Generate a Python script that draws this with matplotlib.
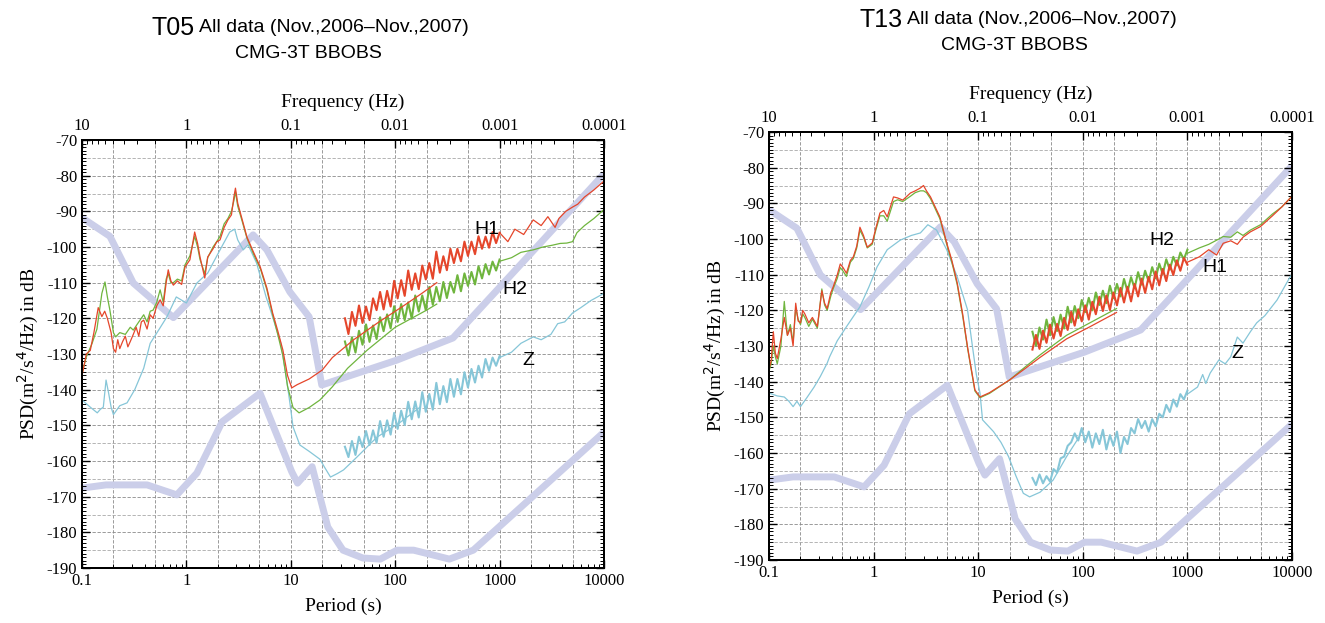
import numpy as np
import matplotlib
matplotlib.use("Agg")
import matplotlib.pyplot as plt
from matplotlib.ticker import FixedLocator, FixedFormatter, LogLocator, NullFormatter, MultipleLocator

plt.rcParams['axes.unicode_minus'] = False

# ---- Peterson noise models ----
nhnm_T = [0.1, 0.185, 0.31, 0.75, 4.35, 5.9, 9.8, 15.0, 19.8, 104, 358, 10000]
nhnm_db = [-91.8, -97.0, -110.1, -119.8, -96.6, -100.8, -112.6, -119.6, -138.7, -131.7, -125.5, -79.5]
nlnm_T = [0.1, 0.17, 0.42, 0.81, 1.26, 2.2, 5.07, 10.2, 11.6, 16.0, 22.6, 31.6, 49, 72, 104, 150, 330, 560, 10000]
nlnm_db = [-167.6, -166.7, -166.7, -169.5, -163.4, -149.0, -141.0, -163.0, -166.2, -161.6, -178.5, -185.0,
           -187.2, -187.5, -185.0, -185.0, -187.5, -185.0, -151.9]

# ---- T05 : low resolution curves ----
t05_h1 = [[0.1, -136], [0.105, -133], [0.11, -130], [0.12, -129], [0.13, -124], [0.143, -117], [0.155, -119.5],
          [0.165, -118], [0.175, -120], [0.19, -124], [0.2, -128.5], [0.21, -129.5], [0.22, -126], [0.23, -128.5],
          [0.245, -126.5], [0.26, -125], [0.275, -128], [0.29, -126.5], [0.31, -124.5], [0.33, -122.5],
          [0.35, -125], [0.37, -121], [0.39, -120.5], [0.42, -123], [0.45, -119], [0.48, -120], [0.52, -116.5],
          [0.56, -114.8], [0.6, -116.5], [0.64, -110], [0.67, -106.4], [0.71, -109.5], [0.75, -110.7],
          [0.82, -109.5], [0.9, -110.5], [0.97, -105.6], [1.08, -103.6], [1.2, -95.8], [1.28, -99],
          [1.35, -102.8], [1.5, -108.7], [1.6, -102.8], [1.8, -100.5], [1.95, -98.6], [2.1, -98], [2.3, -94.5],
          [2.5, -92.4], [2.7, -91], [2.85, -86], [2.95, -83.5], [3.1, -87.7], [3.4, -92], [3.8, -97.2],
          [4.4, -101.5], [5.1, -105.6], [5.9, -111.5], [6.7, -118.5], [7.5, -123.5], [8.4, -128.9], [9.3, -136],
          [10.2, -139.5], [11.5, -138.6], [15, -137], [20, -134.5], [25, -131], [40, -126], [70, -121],
          [120, -116.5], [180, -113], [250, -110]]
t05_h2 = [[0.1, -135.5], [0.11, -130.8], [0.125, -127], [0.139, -123], [0.155, -113], [0.166, -109.8],
          [0.175, -114], [0.185, -117.7], [0.2, -124], [0.21, -125.2], [0.23, -124], [0.26, -124.5],
          [0.29, -122.5], [0.31, -123.3], [0.35, -121], [0.39, -119], [0.42, -121], [0.45, -118], [0.48, -117.7],
          [0.52, -115.5], [0.56, -112], [0.6, -115.5], [0.64, -109], [0.67, -107.5], [0.71, -110], [0.75, -110],
          [0.82, -109], [0.9, -109.5], [0.97, -105], [1.08, -102.5], [1.2, -97], [1.28, -100], [1.35, -103.5],
          [1.5, -107.5], [1.6, -103], [1.8, -100], [1.95, -98.5], [2.1, -97], [2.3, -93.5], [2.5, -92],
          [2.7, -90], [2.85, -87], [2.95, -84.5], [3.1, -88.5], [3.4, -92.5], [3.8, -97.5], [4.4, -102],
          [5.1, -106], [5.9, -112], [6.7, -119], [7.5, -124.5], [8.4, -130.5], [9.3, -139], [10.5, -145],
          [12, -146.5], [15, -145], [19, -142.9], [25, -139.2], [35, -134], [54, -128.9], [100, -122.5],
          [200, -117.7], [250, -116]]
t05_z = [[0.1, -142.9], [0.12, -144.9], [0.14, -146.5], [0.15, -145.5], [0.16, -144.9], [0.17, -137.3],
         [0.18, -141], [0.19, -144.9], [0.2, -147], [0.23, -144.5], [0.27, -143.7], [0.32, -140], [0.39, -134],
         [0.45, -127], [0.55, -123], [0.65, -119.6], [0.8, -114], [1.0, -115.7], [1.26, -110.1], [1.6, -107.3],
         [2.1, -100.8], [2.6, -95.8], [2.9, -95], [3.1, -98], [3.5, -100.8], [3.9, -99.4], [4.7, -104.5],
         [5.8, -114], [6.7, -119.6], [8, -126.9], [9, -136], [9.8, -143.7], [10.5, -150.4], [12.2, -155.5],
         [15, -157.3], [19, -159.5], [21, -161.7], [24, -164.5], [28, -163.5], [32, -162.5], [43, -158.9],
         [67, -153.3], [110, -149.3], [173, -144.9]]

# ---- T05 : high resolution segments (33 s - 1000 s), then tails ----
t05_h1_hr = [-120, -124.4, -118.2, -122.1, -116.4, -121.3, -116.7, -120.5, -114.4, -117.7, -112.6, -117.5,
             -112.3, -116.7, -109.5, -114.4, -109.3, -113.7, -106.6, -112.0, -107.4, -111.8, -105.2, -109.1,
             -104.5, -108.9, -101.3, -107.2, -102.6, -106.5, -100.5, -104.5, -100.5, -104.0, -98.5, -102.5,
             -98.5, -102.0, -97.0, -100.5, -97.1, -100.2, -95.8, -98.9, -96.0]
t05_h2_hr = [-126.5, -130.4, -125.3, -129.6, -123.5, -127.4, -121.7, -126.6, -122.0, -125.8, -119.7, -123.6,
             -118.9, -122.8, -116.6, -121.0, -116.0, -120.5, -115.6, -120.1, -113.6, -118.1, -113.6, -117.7,
             -111.2, -116.2, -111.2, -115.2, -109.8, -114.3, -109.8, -112.8, -107.9, -112.4, -107.4, -110.9,
             -107.0, -110.5, -105.4, -108.8, -104.8, -107.7, -104.1, -106.6, -103.5]
t05_z_hr = [-156.0, -158.9, -154.4, -158.3, -153.2, -156.1, -151.6, -155.5, -151.4, -154.9, -148.8, -153.2,
            -148.6, -152.6, -146.5, -151.0, -145.9, -149.9, -143.4, -148.3, -143.3, -147.8, -140.7, -146.2,
            -141.2, -145.6, -138.1, -144.1, -139.0, -143.5, -137.0, -142.0, -137.0, -141.3, -135.1, -139.4,
            -134.2, -138.0, -133.3, -136.6, -131.4, -134.7, -131.0, -133.3, -130.6]
t05_h1_tail = [[1000, -96], [1200, -98.5], [1400, -95], [1700, -96.5], [2100, -92.4], [2500, -94], [2900, -91.5],
               [3400, -94.5], [3700, -92], [4300, -90], [5000, -88.8], [5600, -88], [6500, -86], [8000, -84],
               [10000, -81.5]]
t05_h2_tail = [[1000, -104], [1300, -103], [1600, -101.5], [2100, -100.8], [2600, -100], [3200, -99.5],
               [3800, -99], [4400, -98.9], [5000, -98.5], [5500, -96], [6500, -94], [8000, -92], [10000, -89.5]]
t05_z_tail = [[1000, -131], [1300, -129.5], [1600, -127], [2100, -125.2], [2500, -126], [3100, -124.5],
              [3600, -121.5], [4200, -121], [5000, -118.5], [6000, -117], [7500, -115], [10000, -113]]

# ---- T13 : low resolution curves ----
t13_h1 = [[0.1, -136.5], [0.105, -134], [0.11, -126], [0.115, -132], [0.12, -133.5], [0.13, -128], [0.14, -122],
          [0.15, -127], [0.16, -125], [0.17, -130], [0.18, -118], [0.19, -123], [0.2, -123.5], [0.21, -120],
          [0.22, -121], [0.24, -123.5], [0.26, -122], [0.29, -124.5], [0.32, -114.5], [0.34, -118],
          [0.36, -119.5], [0.39, -115], [0.41, -113.5], [0.45, -110], [0.48, -107], [0.51, -108], [0.55, -109.6],
          [0.6, -106], [0.64, -105], [0.69, -102], [0.74, -96.7], [0.8, -99], [0.87, -102.3], [0.97, -101.1],
          [1.05, -97], [1.15, -92.7], [1.25, -92], [1.35, -93.8], [1.55, -88.2], [1.7, -88.5], [1.9, -89.1],
          [2.25, -87.1], [2.5, -86.5], [2.8, -85.7], [3.0, -85], [3.2, -86.5], [3.5, -88.2], [4.3, -93.8],
          [5, -101.1], [5.6, -106], [6.3, -112.3], [7.1, -121], [7.9, -130.2], [8.3, -133.9], [9.3, -142.3],
          [10.4, -144.3], [12.8, -143.1], [20, -139.5], [27, -136.7], [39, -133.2], [70, -128], [117, -124.6],
          [210, -120.6]]
t13_h2 = [[0.1, -137], [0.105, -135], [0.11, -130], [0.115, -133], [0.12, -135], [0.13, -130], [0.14, -117.5],
          [0.15, -127], [0.16, -124], [0.17, -129], [0.18, -119.5], [0.19, -122.5], [0.2, -124], [0.21, -121],
          [0.22, -122], [0.24, -124.5], [0.26, -122.5], [0.29, -125], [0.32, -114], [0.34, -118.5], [0.36, -120],
          [0.39, -116], [0.41, -114], [0.45, -111], [0.48, -108], [0.51, -109], [0.55, -110.5], [0.6, -106.5],
          [0.64, -105.5], [0.69, -102.5], [0.74, -97.5], [0.8, -99.5], [0.87, -102.5], [0.97, -101.5],
          [1.05, -97.5], [1.15, -93.5], [1.25, -93.5], [1.35, -95], [1.55, -89.5], [1.7, -89], [1.9, -89.5],
          [2.25, -88], [2.5, -87], [2.8, -86.5], [3.0, -86.5], [3.2, -87], [3.5, -88.7], [4.3, -94.3],
          [5, -101.5], [5.6, -106.5], [6.3, -112.8], [7.1, -121.5], [7.9, -130.5], [8.3, -134.2], [9.3, -142.6],
          [10.4, -144.5], [12.8, -143.3], [20, -139.5], [27, -136.3], [39, -132.5], [70, -127], [117, -123.5],
          [210, -119.5]]
t13_z = [[0.1, -143.2], [0.12, -144], [0.14, -144.3], [0.155, -145.5], [0.17, -147], [0.185, -145.5],
         [0.2, -147], [0.23, -144.5], [0.27, -141.5], [0.31, -138.5], [0.36, -134.8], [0.38, -133],
         [0.45, -128.5], [0.55, -124.6], [0.74, -119], [0.9, -113.5], [1.08, -107.8], [1.35, -103], [1.8, -100.3],
         [2.3, -99], [2.8, -98.3], [3.3, -96], [4.0, -97.5], [5, -103], [6.3, -110.6], [7.9, -119.8],
         [8.8, -130], [9.6, -138], [10.4, -143.2], [11, -150.7], [14, -154], [16.5, -157], [19.5, -161],
         [23, -166.5], [27, -171.3], [31, -172.3], [39, -171], [52, -167.6], [70, -161], [90, -156]]

# ---- T13 : high resolution segments ----
t13_h1_hr = [-131.0, -126.9, -130.8, -125.7, -129.1, -124.0, -127.9, -123.8, -127.2, -122.1, -125.5, -120.4,
             -124.3, -119.7, -123.1, -118.6, -122.6, -117.6, -121.1, -116.2, -120.2, -115.8, -119.9, -115.0,
             -118.6, -113.7, -117.8, -113.4, -117.5, -112.6, -116.1, -111.1, -115.1, -110.6, -114.1, -109.1,
             -113.0, -108.4, -111.8, -107.2, -110.1, -106.0, -108.9, -105.3, -107.2]
t13_h2_hr = [-126.0, -129.9, -124.8, -128.2, -122.6, -127.0, -121.9, -125.8, -121.2, -125.1, -119.0, -123.4,
             -118.8, -122.2, -117.1, -120.5, -116.5, -120.0, -115.0, -118.5, -114.5, -118.0, -113.1, -116.6,
             -112.6, -116.1, -111.2, -114.7, -110.7, -113.8, -109.3, -112.8, -108.9, -111.9, -107.9, -111.0,
             -106.9, -109.8, -105.7, -108.6, -105.0, -107.4, -103.8, -105.7, -103.0]
t13_z_hr = [-167.0, -169.0, -166.0, -168.5, -166.5, -168.0, -164.5, -165.5, -161.5, -161.0, -158.0, -157.0,
            -154.5, -156.5, -153.0, -157.0, -154.0, -158.5, -154.5, -157.5, -153.5, -159.0, -155.0, -158.0,
            -154.0, -160.0, -155.5, -157.5, -153.0, -154.5, -150.5, -153.0, -151.0, -154.0, -150.5, -152.5,
            -149.0, -150.0, -146.5, -148.5, -145.0, -147.0, -143.5, -145.0, -142.5]
t13_h1_tail = [[1000, -106.5], [1300, -105], [1600, -103], [1900, -104.5], [2200, -101.2], [2600, -100.5],
               [3000, -101.5], [3400, -99.5], [4000, -98], [5000, -96.5], [6500, -93.5], [8000, -91], [10000, -88]]
t13_h2_tail = [[1000, -104], [1300, -102.5], [1600, -101.5], [2000, -100], [2200, -99.3], [2600, -99.5],
               [3000, -98], [3400, -99], [4000, -97.5], [5000, -96], [6500, -93], [8000, -91], [10000, -88]]
t13_z_tail = [[1000, -143.5], [1250, -141.5], [1400, -138], [1500, -140.5], [1650, -137.6], [2000, -133.9],
              [2300, -135], [2600, -133], [3000, -127.5], [3400, -129.2], [4000, -126], [4600, -123.5],
              [5500, -121.5], [7200, -117.1], [9600, -110.6], [10000, -110]]

hr_start, hr_end = 33.0, 1000.0

col_h1 = '#e5462b'
col_h2 = '#6fb53e'
col_z = '#86c6d8'
col_model = '#cbcee9'

serif = 'Liberation Serif'
sans = 'Liberation Sans'


def panel(ax, low, hr, tail, labels):
    ax.set_xscale('log')
    ax.set_xlim(0.1, 10000)
    ax.set_ylim(-190, -70)
    ax.plot(nhnm_T, nhnm_db, color=col_model, lw=5, solid_capstyle='butt', zorder=1)
    ax.plot(nlnm_T, nlnm_db, color=col_model, lw=5, solid_capstyle='butt', zorder=1)
    cols = [col_z, col_h2, col_h1]
    for i in range(3):
        d = np.array(low[i])
        ax.plot(d[:, 0], d[:, 1], color=cols[i], lw=0.9, zorder=3 + i)
        v = np.array(hr[i])
        ax.plot(np.geomspace(hr_start, hr_end, len(v)), v, color=cols[i], lw=1.5, zorder=3 + i)
        t = np.array(tail[i])
        ax.plot(t[:, 0], t[:, 1], color=cols[i], lw=0.9, zorder=3 + i)
    for txt, x, y in labels:
        ax.text(x, y, txt, fontsize=14, family=sans, ha='center', va='center', zorder=10)

    # grid
    for dec in [0.1, 1, 10, 100, 1000]:
        for m in [1, 2, 5]:
            if dec * m > 0.1:
                ax.axvline(dec * m, color='#8a8a8a', lw=0.6, ls=(0, (4, 2)), zorder=0)
    for y in range(-185, -70, 5):
        c = '#8a8a8a' if y % 10 == 0 else '#a8a8a8'
        ax.axhline(y, color=c, lw=0.6, ls=(0, (4, 2)), zorder=0)

    ax.xaxis.set_major_locator(FixedLocator([0.1, 1, 10, 100, 1000, 10000]))
    ax.xaxis.set_major_formatter(FixedFormatter(['0.1', '1', '10', '100', '1000', '10000']))
    ax.xaxis.set_minor_locator(LogLocator(base=10, subs=np.arange(2, 10), numticks=20))
    ax.xaxis.set_minor_formatter(NullFormatter())
    ax.yaxis.set_major_locator(MultipleLocator(10))
    ax.yaxis.set_minor_locator(MultipleLocator(1))
    ax.tick_params(axis='both', which='major', labelsize=12, direction='in', length=6, width=1)
    ax.tick_params(axis='both', which='minor', direction='in', length=3, width=0.7)
    ax.tick_params(axis='y', which='both', right=True)
    for lab in ax.get_xticklabels() + ax.get_yticklabels():
        lab.set_family(serif)
    for s in ax.spines.values():
        s.set_linewidth(1.4)
    ax.set_xlabel('Period (s)', family=serif, fontsize=14, labelpad=6)
    ax.set_ylabel('PSD(m$^2$/s$^4$/Hz) in dB', family=serif, fontsize=14, labelpad=4)

    top = ax.twiny()
    top.set_xscale('log')
    top.set_xlim(10, 0.0001)
    top.xaxis.set_major_locator(FixedLocator([10, 1, 0.1, 0.01, 0.001, 0.0001]))
    top.xaxis.set_major_formatter(FixedFormatter(['10', '1', '0.1', '0.01', '0.001', '0.0001']))
    top.xaxis.set_minor_locator(LogLocator(base=10, subs=np.arange(2, 10), numticks=20))
    top.xaxis.set_minor_formatter(NullFormatter())
    top.tick_params(axis='x', which='major', labelsize=12, direction='in', length=6, width=1, pad=4)
    top.tick_params(axis='x', which='minor', direction='in', length=3, width=0.7)
    for lab in top.get_xticklabels():
        lab.set_family(serif)
    top.set_xlabel('Frequency (Hz)', family=serif, fontsize=14, labelpad=8)
    for s in top.spines.values():
        s.set_linewidth(1.4)
    return top


W, H = 1325, 623
fig = plt.figure(figsize=(W / 100, H / 100), dpi=100)
ax1 = fig.add_axes([82 / W, 1 - 568 / H, 522 / W, 428 / H])
ax2 = fig.add_axes([769 / W, 1 - 560 / H, 523 / W, 428 / H])

panel(ax1, [t05_z, t05_h2, t05_h1], [t05_z_hr, t05_h2_hr, t05_h1_hr], [t05_z_tail, t05_h2_tail, t05_h1_tail],
      [('H1', 757, -95.2), ('H2', 1403, -112), ('Z', 1871, -131.7)])
panel(ax2, [t13_z, t13_h2, t13_h1], [t13_z_hr, t13_h2_hr, t13_h1_hr], [t13_z_tail, t13_h2_tail, t13_h1_tail],
      [('H2', 571, -100.3), ('H1', 1836, -108.1), ('Z', 2979, -132)])

# titles
fig.text(195 / W, 1 - 28 / H, 'T05', family=sans, fontsize=18, ha='right', va='center')
fig.text(199 / W, 1 - 28 / H, 'All data (Nov.,2006\u2013Nov.,2007)', family=sans, fontsize=14, ha='left', va='center')
fig.text(308 / W, 1 - 54 / H, 'CMG-3T BBOBS', family=sans, fontsize=14, ha='center', va='center')
fig.text(903 / W, 1 - 20 / H, 'T13', family=sans, fontsize=18, ha='right', va='center')
fig.text(907 / W, 1 - 20 / H, 'All data (Nov.,2006\u2013Nov.,2007)', family=sans, fontsize=14, ha='left', va='center')
fig.text(1014 / W, 1 - 46 / H, 'CMG-3T BBOBS', family=sans, fontsize=14, ha='center', va='center')

fig.savefig('out.png', dpi=100)
